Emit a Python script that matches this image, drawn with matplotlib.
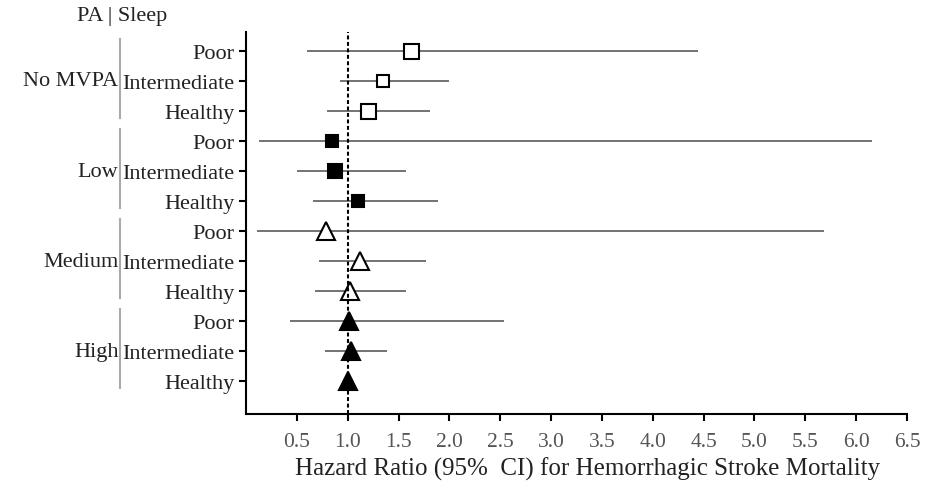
import numpy as np
import matplotlib.pyplot as plt

plt.rcParams['font.family'] = ['Liberation Serif', 'DejaVu Serif']

# Physical activity groups and sleep pattern within each group
pa_groups = ["No MVPA", "Low", "Medium", "High"]
sleep_levels = ["Poor", "Intermediate", "Healthy"]

# Hazard ratios and 95% CI, one entry per PA x sleep row (top to bottom)
hr = [1.62, 1.35, 1.20,
      0.85, 0.88, 1.10,
      0.79, 1.12, 1.02,
      1.01, 1.03, 1.00]
ci_low = [0.60, 0.92, 0.80,
          0.13, 0.50, 0.66,
          0.11, 0.72, 0.68,
          0.43, 0.78, np.nan]
ci_high = [4.44, 2.00, 1.81,
           6.16, 1.57, 1.89,
           5.68, 1.77, 1.57,
           2.54, 1.39, np.nan]
# relative marker size (study weight)
weight = [10.8, 9.2, 10.8,
          8.8, 10.2, 8.8,
          13.0, 13.5, 13.0,
          12.5, 12.5, 12.5]

marker_style = {
    "No MVPA": dict(marker="s", mfc="white"),
    "Low": dict(marker="s", mfc="black"),
    "Medium": dict(marker="^", mfc="white"),
    "High": dict(marker="^", mfc="black"),
}

x_ticks = np.arange(0.5, 6.51, 0.5)

fig = plt.figure(figsize=(9.37, 4.89), dpi=100)
ax = fig.add_axes([0.2625, 0.1513, 0.7055, 0.7812])

rows = np.arange(len(hr))
for i in rows:
    grp = pa_groups[i // 3]
    if not np.isnan(ci_low[i]):
        ax.plot([ci_low[i], ci_high[i]], [i, i], color="#4d4d4d", lw=1.1,
                solid_capstyle="butt", zorder=2)
    ax.plot(hr[i], i, linestyle="none", mec="black", mew=1.5,
            ms=weight[i], zorder=3, **marker_style[grp])

ax.axvline(1.0, color="black", lw=1.5, dashes=(1.9, 1.2), zorder=4)

ax.set_xlim(0, 6.5)
ax.set_ylim(12.1, -0.633)
ax.set_xticks(x_ticks)
ax.set_xticklabels([f"{t:.1f}" for t in x_ticks], color="#555555")
ax.set_yticks(rows)
ax.set_yticklabels(sleep_levels * len(pa_groups), color="#222222")
ax.tick_params(axis="both", width=1.5, length=5, direction="out")
ax.tick_params(axis="x", labelsize=15.5, pad=8)
ax.tick_params(axis="y", labelsize=16, pad=3)
for side in ["top", "right"]:
    ax.spines[side].set_visible(False)
for side in ["left", "bottom"]:
    ax.spines[side].set_linewidth(1.5)

ax.set_xlabel("Hazard Ratio (95%  CI) for Hemorrhagic Stroke Mortality",
              fontsize=18, color="#222222", va="center")
ax.xaxis.set_label_coords(0.517, -0.143)

# group labels with grey bracket lines on the left
trans = ax.get_yaxis_transform()
bar_x = -0.19
for g, name in enumerate(pa_groups):
    top, bot = g * 3 - 0.4, g * 3 + 2 + 0.23
    ax.plot([bar_x, bar_x], [top, bot], color="#aaaaaa", lw=1.5,
            transform=trans, clip_on=False)
    ax.text(bar_x - 0.003, g * 3 + 1, name, transform=trans, ha="right",
            va="center", fontsize=16, color="#222222")

fig.text(122 / 937, 1 - 17 / 489, "PA | Sleep", ha="center", va="center",
         fontsize=16, color="#222222")

fig.savefig("out.png", dpi=100)
